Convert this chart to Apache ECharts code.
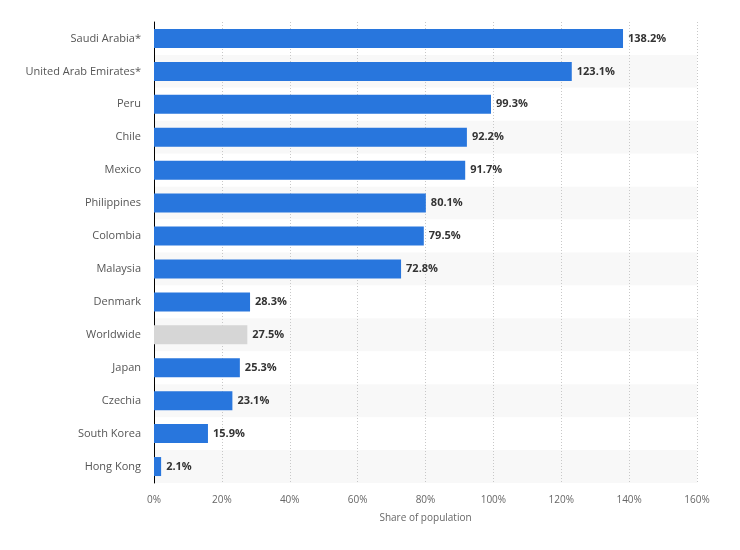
<!DOCTYPE html>
<html>
<head>
<meta charset="utf-8">
<script src="https://cdn.jsdelivr.net/npm/echarts@6/dist/echarts.min.js"></script>
<style>html,body{margin:0;padding:0;background:#fff;}#c{width:740px;height:550px;}</style>
</head>
<body>
<div id="c"></div>
<script>
var categories = ["Saudi Arabia*", "United Arab Emirates*", "Peru", "Chile", "Mexico", "Philippines", "Colombia", "Malaysia", "Denmark", "Worldwide", "Japan", "Czechia", "South Korea", "Hong Kong"];
var values = [138.2, 123.1, 99.3, 92.2, 91.7, 80.1, 79.5, 72.8, 28.3, 27.5, 25.3, 23.1, 15.9, 2.1];
var highlightCategory = "Worldwide";
var axisTitle = "Share of population";

var chart = echarts.init(document.getElementById('c'), null, {renderer: 'canvas'});
var font = "'Open Sans', 'DejaVu Sans', sans-serif";
chart.setOption({
  animation: false,
  grid: {left: 154, right: 43, top: 22, bottom: 67, containLabel: false},
  xAxis: {
    type: 'value', min: 0, max: 160, interval: 20,
    name: axisTitle, nameLocation: 'middle', nameGap: 30,
    nameTextStyle: {color: '#666', fontSize: 10, fontFamily: font},
    axisLine: {show: false}, axisTick: {show: false},
    axisLabel: {color: '#666', fontSize: 10, fontFamily: font, margin: 12, formatter: '{value}%'},
    splitLine: {show: true, lineStyle: {color: '#c8c8c8', type: [1, 2], width: 1}}
  },
  yAxis: {
    type: 'category', data: categories, inverse: true,
    axisLine: {show: true, lineStyle: {color: '#000', width: 1}},
    axisTick: {show: false},
    axisLabel: {color: '#555', fontSize: 11, fontFamily: font, margin: 13},
    splitArea: {show: true, areaStyle: {color: ['#ffffff', '#f8f8f8']}}
  },
  series: [{
    type: 'bar', barWidth: 19,
    data: values.map(function(v, i){
      return {value: v, itemStyle: {color: categories[i] === highlightCategory ? '#d6d6d6' : '#2876dd'}};
    }),
    label: {show: true, position: 'right', distance: 5, formatter: function(p){return p.value.toFixed(1) + '%';},
      color: '#333', fontSize: 11, fontWeight: 'bold', fontFamily: font}
  }]
});
</script>
</body>
</html>
